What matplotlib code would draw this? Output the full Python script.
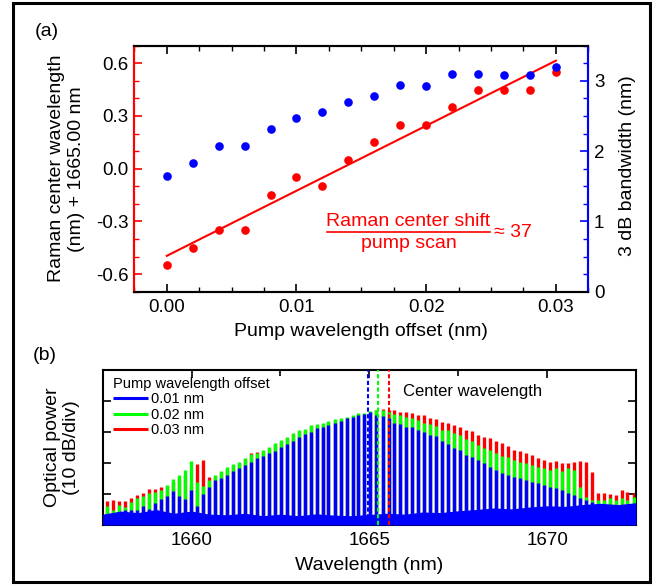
import numpy as np
import matplotlib
matplotlib.use("Agg")
import matplotlib.pyplot as plt
from matplotlib.ticker import MultipleLocator, FormatStrFormatter
from matplotlib.patches import Rectangle
from matplotlib.lines import Line2D

plt.rcParams['font.family'] = ['Liberation Sans', 'DejaVu Sans']
plt.rcParams['axes.unicode_minus'] = False

# ---- panel (a) data ----
pump_offset = [0.000, 0.002, 0.004, 0.006, 0.008, 0.010, 0.012, 0.014,
               0.016, 0.018, 0.020, 0.022, 0.024, 0.026, 0.028, 0.030]
center_shift = [-0.55, -0.45, -0.35, -0.35, -0.15, -0.05, -0.10, 0.05,
                0.15, 0.25, 0.25, 0.35, 0.45, 0.45, 0.45, 0.55]
bandwidth_3db = [1.65, 1.83, 2.08, 2.08, 2.31, 2.47, 2.55, 2.70,
                 2.78, 2.94, 2.93, 3.10, 3.10, 3.09, 3.09, 3.19]

# ---- panel (b) data: comb line positions and peak heights (divisions) ----
comb_wl = [1657.63, 1657.80, 1657.97, 1658.13, 1658.30, 1658.47, 1658.64, 1658.81,
           1658.98, 1659.14, 1659.31, 1659.48, 1659.65, 1659.82, 1659.98, 1660.15,
           1660.32, 1660.49, 1660.66, 1660.83, 1660.99, 1661.16, 1661.33, 1661.50,
           1661.67, 1661.84, 1662.00, 1662.17, 1662.34, 1662.51, 1662.68, 1662.84,
           1663.01, 1663.18, 1663.35, 1663.52, 1663.69, 1663.85, 1664.02, 1664.19,
           1664.36, 1664.53, 1664.69, 1664.86, 1665.03, 1665.20, 1665.37, 1665.54,
           1665.70, 1665.87, 1666.04, 1666.21, 1666.38, 1666.54, 1666.71, 1666.88,
           1667.05, 1667.22, 1667.39, 1667.55, 1667.72, 1667.89, 1668.06, 1668.23,
           1668.39, 1668.56, 1668.73, 1668.90, 1669.07, 1669.24, 1669.40, 1669.57,
           1669.74, 1669.91, 1670.08, 1670.25, 1670.41, 1670.58, 1670.75, 1670.92,
           1671.09, 1671.25, 1671.42, 1671.59, 1671.76, 1671.93, 1672.10, 1672.26,
           1672.43]
peak_001 = [0.32, 0.32, 0.40, 0.48, 0.47, 0.48, 0.62, 0.52, 0.70, 0.85, 0.95, 1.10,
            0.95, 0.85, 1.13, 0.60, 1.00, 1.24, 1.45, 1.51, 1.61, 1.75, 1.83, 1.94,
            2.04, 2.15, 2.23, 2.31, 2.40, 2.53, 2.61, 2.72, 2.83, 2.92, 3.01, 3.12,
            3.17, 3.23, 3.30, 3.37, 3.44, 3.47, 3.55, 3.58, 3.64, 3.55, 3.52, 3.44,
            3.30, 3.25, 3.17, 3.15, 3.06, 3.00, 2.90, 2.87, 2.70, 2.62, 2.47, 2.41,
            2.26, 2.20, 2.10, 1.99, 1.88, 1.77, 1.67, 1.61, 1.56, 1.51, 1.45, 1.40,
            1.34, 1.29, 1.24, 1.18, 1.13, 1.02, 0.97, 0.86, 0.81, 0.75, 0.60, 0.60,
            0.55, 0.60, 0.60, 0.55, 0.60]
peak_002 = [0.60, 0.48, 0.66, 0.57, 0.75, 0.86, 0.94, 1.02, 1.08, 1.13, 1.28, 1.47,
            1.62, 1.77, 2.06, 1.40, 1.25, 1.45, 1.62, 1.75, 1.86, 1.96, 2.04, 2.15,
            2.29, 2.33, 2.42, 2.53, 2.63, 2.74, 2.83, 2.96, 3.06, 3.09, 3.23, 3.26,
            3.30, 3.35, 3.41, 3.44, 3.49, 3.55, 3.60, 3.62, 3.69, 3.72, 3.71, 3.64,
            3.58, 3.55, 3.48, 3.44, 3.38, 3.30, 3.27, 3.20, 3.08, 3.05, 2.96, 2.90,
            2.76, 2.72, 2.58, 2.50, 2.42, 2.33, 2.23, 2.18, 2.10, 2.04, 1.99, 1.94,
            1.88, 1.83, 1.77, 1.83, 1.75, 1.83, 1.77, 1.24, 0.91, 0.81, 0.81, 0.81,
            0.86, 0.81, 0.86, 0.81, 0.91]
peak_003 = [0.77, 0.80, 0.76, 0.76, 0.87, 0.97, 1.04, 1.15, 1.17, 1.22, 1.27, 1.40,
            1.52, 1.62, 1.30, 1.97, 2.11, 1.56, 1.58, 1.71, 1.82, 1.92, 2.00, 2.12,
            2.33, 2.37, 2.39, 2.50, 2.60, 2.71, 2.80, 2.93, 3.03, 3.06, 3.20, 3.23,
            3.27, 3.32, 3.38, 3.41, 3.46, 3.52, 3.57, 3.59, 3.65, 3.72, 3.73, 3.71,
            3.70, 3.66, 3.65, 3.60, 3.55, 3.55, 3.45, 3.41, 3.32, 3.28, 3.22, 3.15,
            3.06, 3.02, 2.90, 2.84, 2.80, 2.72, 2.66, 2.55, 2.42, 2.40, 2.31, 2.26,
            2.15, 2.10, 2.04, 2.08, 2.01, 2.01, 2.04, 2.08, 2.04, 1.72, 1.04, 1.02,
            1.00, 0.97, 1.13, 1.08, 1.04]
floor_wl = [1657.5, 1658.0, 1658.5, 1659.0, 1659.5, 1660.0, 1660.5, 1661.0,
            1661.5, 1662.0, 1662.5, 1663.0, 1663.5, 1664.0, 1664.5, 1665.0,
            1665.5, 1666.0, 1666.5, 1667.0, 1667.5, 1668.0, 1668.5, 1669.0,
            1669.5, 1670.0, 1670.5, 1671.0, 1671.5, 1672.0, 1672.5]
floor_level = [0.35, 0.45, 0.40, 0.50, 0.38, 0.45, 0.35, 0.33, 0.38, 0.30, 0.35,
               0.30, 0.36, 0.32, 0.30, 0.34, 0.38, 0.35, 0.42, 0.40, 0.46, 0.50,
               0.55, 0.52, 0.58, 0.62, 0.60, 0.66, 0.70, 0.66, 0.72]
offset_labels = ['0.01 nm', '0.02 nm', '0.03 nm']
center_marks = [1664.95, 1665.25, 1665.55]

RED, GREEN, BLUE = '#ff0000', '#00ff00', '#0000ff'
W, H = 665, 585


def fx(px):
    return px / W


def fy(py):
    return 1 - py / H


fig = plt.figure(figsize=(6.65, 5.85), dpi=100)

# ---------------- panel (a) ----------------
ax = fig.add_axes([fx(134.3), fy(291.7), fx(588.3) - fx(134.3), fy(45.7) - fy(291.7)])
ax2 = ax.twinx()

k, b = np.polyfit(pump_offset, center_shift, 1)
xfit = np.array([pump_offset[0], pump_offset[-1]])
ax.plot(xfit, k * xfit + b, color=RED, lw=1.5, zorder=2)
ax.plot(pump_offset, center_shift, 'o', color=RED, ms=6.2, mec='none', zorder=3)
ax2.plot(pump_offset, bandwidth_3db, 'o', color=BLUE, ms=6.2, mec='none', zorder=3)

ax.set_xlim(-0.0025, 0.0325)
ax.set_ylim(-0.7, 0.7)
ax2.set_ylim(0, 3.5)
ax.xaxis.set_major_locator(MultipleLocator(0.01))
ax.xaxis.set_minor_locator(MultipleLocator(0.0025))
ax.xaxis.set_major_formatter(FormatStrFormatter('%.2f'))
ax.yaxis.set_major_locator(MultipleLocator(0.3))
ax.yaxis.set_minor_locator(MultipleLocator(0.1))
ax.yaxis.set_major_formatter(FormatStrFormatter('%.1f'))
ax2.yaxis.set_major_locator(MultipleLocator(1))
ax2.yaxis.set_minor_locator(MultipleLocator(0.25))

ax.tick_params(which='both', direction='in', top=True, labelsize=13.5)
ax.tick_params(which='major', length=6, width=1.2, pad=5)
ax.tick_params(which='minor', length=3.5, width=1.0)
ax.tick_params(axis='y', which='both', color=RED, pad=4)
ax2.tick_params(axis='y', which='both', direction='in', color=BLUE, labelsize=13.5, pad=4)
ax2.tick_params(axis='y', which='major', length=6, width=1.2)
ax2.tick_params(axis='y', which='minor', length=3.5, width=1.0)

for a in (ax, ax2):
    for s in a.spines.values():
        s.set_linewidth(1.5)
    a.spines['left'].set_color(RED)
    a.spines['right'].set_color(BLUE)

fig.text(fx(66.5), fy(168.7), 'Raman center wavelength\n(nm) + 1665.00 nm', rotation=90,
         ha='center', va='center', multialignment='center', fontsize=14, linespacing=1.2)
fig.text(fx(627), fy(166), '3 dB bandwidth (nm)', rotation=90, ha='center', va='center', fontsize=14)
fig.text(fx(361.3), fy(332), 'Pump wavelength offset (nm)', ha='center', va='center', fontsize=14)
fig.text(fx(47), fy(32), '(a)', ha='center', va='center', fontsize=14)

fig.text(fx(408.5), fy(221.7), 'Raman center shift', ha='center', va='center', fontsize=14, color=RED)
fig.text(fx(408.5), fy(243.3), 'pump scan', ha='center', va='center', fontsize=14, color=RED)
fig.add_artist(Line2D([fx(326.7), fx(490)], [fy(232.3), fy(232.3)], color=RED, lw=1.2,
                      transform=fig.transFigure))
fig.text(fx(494), fy(232.3), '\u2248 37', ha='left', va='center', fontsize=14, color=RED)

# ---------------- panel (b) ----------------
bx = fig.add_axes([fx(102.7), fy(525), fx(636) - fx(102.7), fy(370) - fy(525)])
bx.vlines(comb_wl, 0, peak_003, color=RED, lw=2.4, zorder=2, label=offset_labels[2])
bx.vlines(comb_wl, 0, peak_002, color=GREEN, lw=2.4, zorder=3, label=offset_labels[1])
bx.vlines(comb_wl, 0, peak_001, color=BLUE, lw=2.4, zorder=4, label=offset_labels[0])
bx.fill_between(floor_wl, 0, floor_level, color=BLUE, lw=0, zorder=4.5)
for wl, c in zip(center_marks, [BLUE, GREEN, RED]):
    bx.axvline(wl, color=c, lw=1.5, ls=(0, (2, 1.2)), zorder=5)

bx.set_xlim(1657.5, 1672.5)
bx.set_ylim(0, 5)
bx.xaxis.set_major_locator(MultipleLocator(5))
bx.xaxis.set_minor_locator(MultipleLocator(2.5))
bx.yaxis.set_major_locator(MultipleLocator(1))
bx.tick_params(which='both', direction='in', top=True, right=True, labelleft=False, labelsize=13.5)
bx.tick_params(which='major', length=6, width=1.2, pad=5)
bx.tick_params(which='minor', length=4, width=1.2)
for s in bx.spines.values():
    s.set_linewidth(1.5)

h, l = bx.get_legend_handles_labels()
order = [2, 1, 0]
leg = bx.legend([h[i] for i in order], [l[i] for i in order], title='Pump wavelength offset',
                loc='upper left', bbox_to_anchor=(fx(113), fy(377)), bbox_transform=fig.transFigure,
                frameon=False, fontsize=10.5, title_fontsize=10.5, handlelength=2.4,
                handletextpad=0.2, labelspacing=0.1, borderpad=0, borderaxespad=0,
                alignment='left')
for line in leg.get_lines():
    line.set_linewidth(2.2)

fig.text(fx(472.5), fy(391.7), 'Center wavelength', ha='center', va='center', fontsize=12)
fig.text(fx(62), fy(447.5), 'Optical power\n(10 dB/div)', rotation=90, ha='center', va='center',
         multialignment='center', fontsize=14, linespacing=1.2)
fig.text(fx(369.3), fy(565), 'Wavelength (nm)', ha='center', va='center', fontsize=14)
fig.text(fx(45), fy(355), '(b)', ha='center', va='center', fontsize=14)

fig.add_artist(Rectangle((fx(13), fy(581.7)), fx(650) - fx(13), fy(3.3) - fy(581.7),
                         transform=fig.transFigure, fill=False, ec='black', lw=2.2))

fig.savefig('out.png', dpi=100)
